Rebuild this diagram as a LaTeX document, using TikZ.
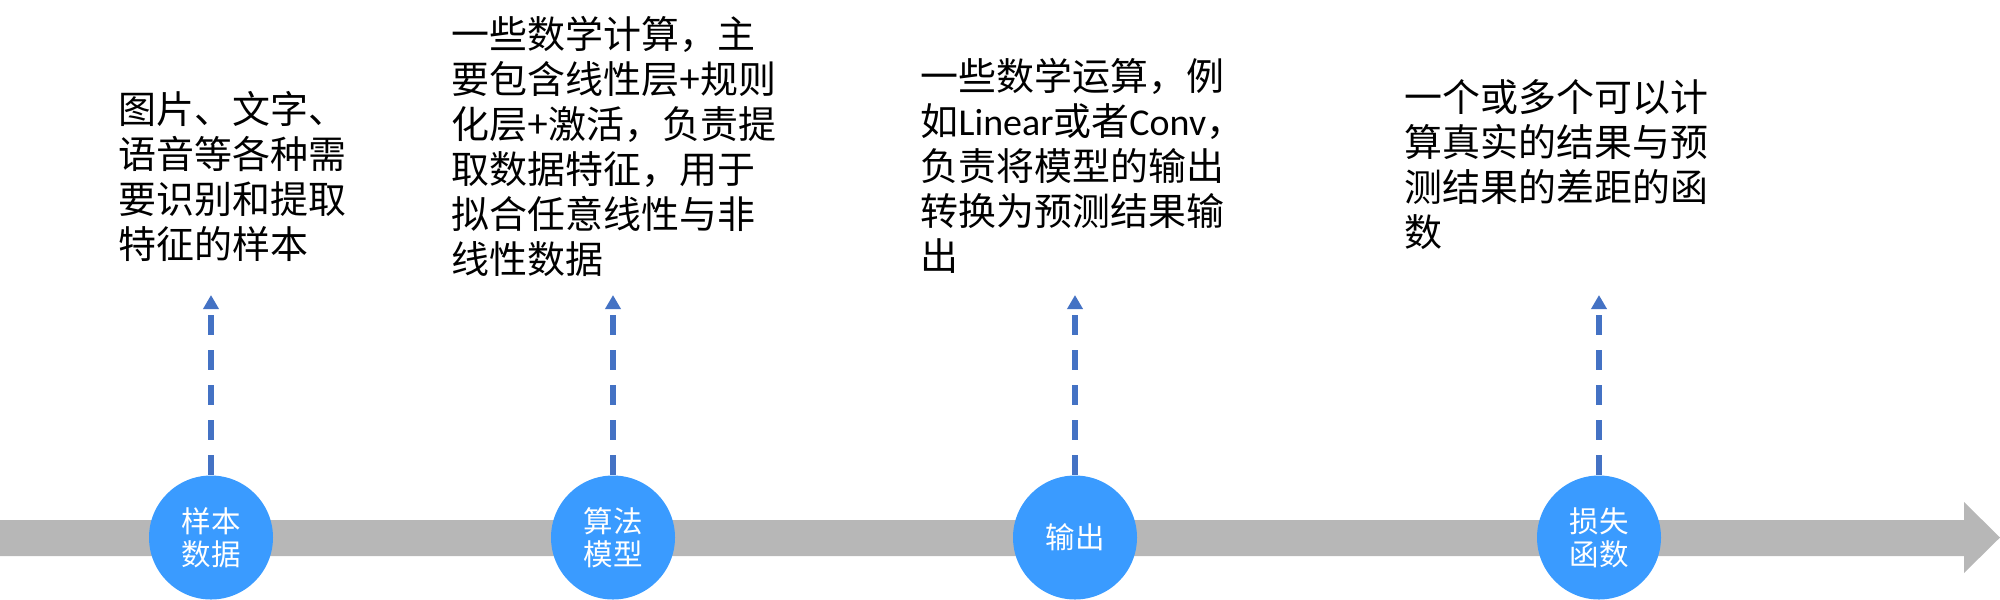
\documentclass[tikz,border=0pt]{standalone}
\usepackage{fontspec}
\newfontfamily\cjk{Noto Sans CJK SC}
\newfontfamily\latin{Carlito}
\usepackage{tikz}
\usetikzlibrary{arrows.meta}
\definecolor{bandgray}{HTML}{B7B7B7}
\definecolor{stageblue}{HTML}{3A9BFF}
\definecolor{linkblue}{HTML}{4472C4}
\tikzset{
    stage/.style={circle, fill=stageblue, minimum size=1.24cm, inner sep=0pt, text=white, align=center, font=\cjk\fontsize{8.4pt}{9.4pt}\selectfont}, % 圆形阶段节点
    note/.style={anchor=north west, inner sep=0pt, align=left, font=\cjk\fontsize{10.8pt}{12.8pt}\selectfont}, % 上方说明文字
    link/.style={draw=linkblue, line width=1.5pt, dash pattern=on 0.2cm off 0.15cm, -{Triangle[width=0.15cm, length=0.14cm]}}
}

\begin{document}
\begin{tikzpicture}
    \useasboundingbox (0,0) rectangle (20,5.99);

    \fill[bandgray] (0,0.43) -- (19.64,0.43) -- (19.64,0.26) -- (20,0.615) -- (19.64,0.97) -- (19.64,0.79) -- (0,0.79) -- cycle;

    \foreach \x/\id/\lab in {2.11/sample/{样本\\数据}, 6.13/model/{算法\\模型}, 10.75/output/{输出}, 15.99/loss/{损失\\函数}} {
        \node[stage] (\id) at (\x, 0.615) {\lab};
        \coordinate (\id top) at (\x, 3.04);
        \draw[link] (\id) -- (\id top);
    }

    \node[note] (sample note) at (1.18, 5.08) {图片、文字、\\语音等各种需\\要识别和提取\\特征的样本};
    \node[note] (model note) at (4.51, 5.83) {一些数学计算，主\\要包含线性层+规则\\化层+激活，负责提\\取数据特征，用于\\拟合任意线性与非\\线性数据};
    \node[note] (output note) at (9.20, 5.41) {一些数学运算，例\\如{\latin Linear}或者{\latin Conv}，\\负责将模型的输出\\转换为预测结果输\\出};
    \node[note] (loss note) at (14.04, 5.20) {一个或多个可以计\\算真实的结果与预\\测结果的差距的函\\数};
\end{tikzpicture}
\end{document}
